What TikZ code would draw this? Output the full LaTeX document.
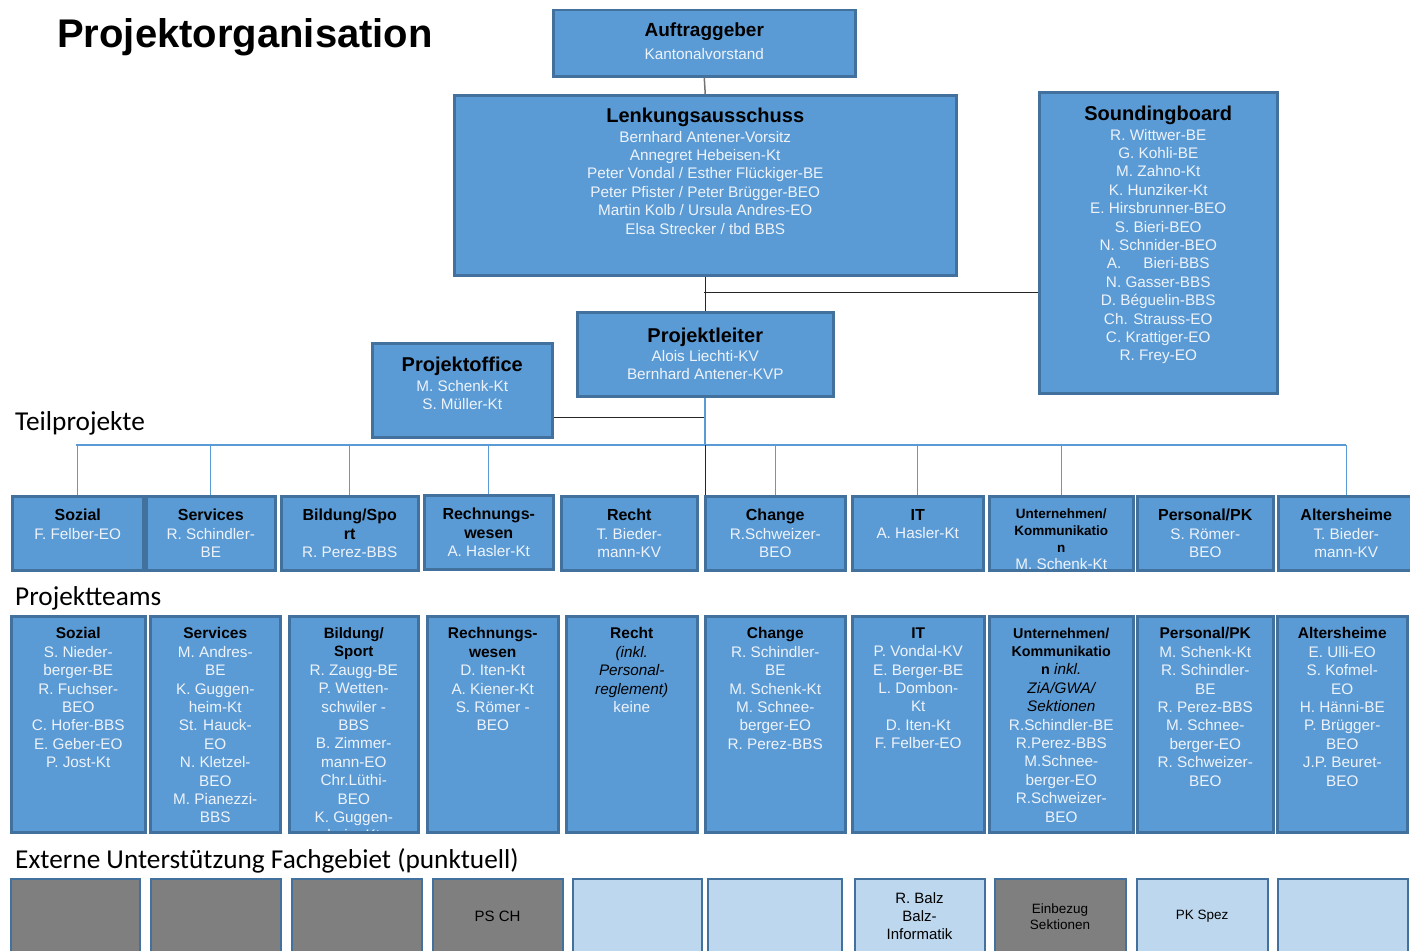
\documentclass[tikz,border=0pt]{standalone}
\usepackage{fontspec}
\setmainfont{Liberation Sans}
\newfontfamily\labelfont{Carlito}
\usetikzlibrary{positioning}
\definecolor{boxblue}{HTML}{5B9BD5}
\definecolor{boxline}{HTML}{41719C}
\definecolor{lightbox}{HTML}{BDD7EE}
\definecolor{greybox}{HTML}{7F7F7F}
\definecolor{nametext}{HTML}{EEF3FA}
\newcommand{\hd}[2]{{\color{black}\fontsize{#1}{18}\selectfont\bfseries #2}}
\newcommand{\ital}[1]{{\color{black}\itshape #1}}
\tikzset{
  box/.style={draw=boxline, line width=2.5pt, fill=boxblue, anchor=north west, inner sep=0pt},
  extbox/.style={draw=boxline, line width=2pt, anchor=north west, inner sep=0pt, minimum height=76pt,
    align=center, font=\fontsize{15}{18}\selectfont},
  names/.style={anchor=north, align=center, inner sep=0pt, text=nametext, font=\fontsize{15.3}{18.4}\selectfont},
  rowlabel/.style={anchor=base west, inner sep=0pt, font=\labelfont\fontsize{27.3}{29}\selectfont},
  conn/.style={draw=black!85, line width=1pt},
  busline/.style={draw=boxblue, line width=1.3pt}
}
\begin{document}
\begin{tikzpicture}[x=1pt, y=-1pt]
\useasboundingbox (0,0) rectangle (1410,950);

\node[anchor=base west, inner sep=0pt, font=\fontsize{40}{40}\selectfont\bfseries] (title) at (57,48) {Projektorganisation};

% Leitung
\node[box, minimum width=302pt, minimum height=66pt] (auftrag) at (552,9) {};
\node[box, minimum width=502pt, minimum height=180pt] (lenk) at (453,94) {};
\node[box, minimum width=238pt, minimum height=301pt] (sound) at (1038,91) {};
\node[box, minimum width=256pt, minimum height=84pt] (leiter) at (576,311) {};
\node[box, minimum width=180pt, minimum height=94pt] (office) at (371,342) {};

\node[names, below=14pt of auftrag.north] (auftragtxt) {\hd{19}{Auftraggeber}\\[4pt]Kantonalvorstand};
\node[names, below=14pt of lenk.north] (lenktxt) {\hd{20}{Lenkungsausschuss}\\[1pt]
  Bernhard Antener-Vorsitz\\Annegret Hebeisen-Kt\\Peter Vondal / Esther Flückiger-BE\\
  Peter Pfister / Peter Brügger-BEO\\Martin Kolb / Ursula Andres-EO\\Elsa Strecker / tbd BBS};
\node[names, below=15pt of sound.north] (soundtxt) {\hd{20}{Soundingboard}\\[1pt]
  R. Wittwer-BE\\G. Kohli-BE\\M. Zahno-Kt\\K. Hunziker-Kt\\E. Hirsbrunner-BEO\\S. Bieri-BEO\\
  N. Schnider-BEO\\A.\hspace{22pt}Bieri-BBS\\N. Gasser-BBS\\D. Béguelin-BBS\\Ch. Strauss-EO\\
  C. Krattiger-EO\\R. Frey-EO};
\node[names, below=17pt of leiter.north] (leitertxt) {\hd{20}{Projektleiter}\\Alois Liechti-KV\\Bernhard Antener-KVP};
\node[names, below=15pt of office.north] (officetxt) {\hd{20}{Projektoffice}\\[1pt]M. Schenk-Kt\\S. Müller-Kt};

% Verbindungen oben
\coordinate (sbjoin) at (704,292);
\coordinate (offjoin) at (704,417);
\coordinate (busL) at (76,445);
\draw[draw=black!55, line width=1.5pt] (auftrag.south) -- (lenk.north);
\draw[conn] (lenk.south) -- (leiter.north);
\draw[conn] (sbjoin) -- (sound.west |- sbjoin);
\draw[conn] (offjoin) -- (office.east |- offjoin);

% Teilprojekte
\node[rowlabel] (tplabel) at (15,430) {Teilprojekte};
\node[box, minimum width=131pt, minimum height=74pt] (tp1) at (11,495) {};
\node[box, minimum width=129pt, minimum height=74pt] (tp2) at (145,495) {};
\node[box, minimum width=137pt, minimum height=74pt] (tp3) at (280,495) {};
\node[box, minimum width=129pt, minimum height=74pt] (tp4) at (423,494) {};
\node[box, minimum width=136pt, minimum height=74pt] (tp5) at (560,495) {};
\node[box, minimum width=140pt, minimum height=74pt] (tp6) at (704,495) {};
\node[box, minimum width=131pt, minimum height=74pt] (tp7) at (851,495) {};
\node[box, minimum width=144pt, minimum height=74pt] (tp8) at (988,495) {};
\node[box, minimum width=136pt, minimum height=74pt] (tp9) at (1136,495) {};
\node[box, minimum width=136pt, minimum height=74pt] (tp10) at (1277,495) {};

\draw[boxblue, line width=2pt] (leiter.south) -- (leiter.south |- busL);
\draw[busline] (busL) -- (busL -| tp10.north);
\foreach \t in {tp1,tp2,tp3,tp4,tp6,tp7,tp8,tp10}
  \draw[busline] (\t.north) -- (\t.north |- busL);
\draw[conn] (leiter.south |- busL) -- (leiter.south |- tp6.north);

\begin{scope}
\clip (0,490) rectangle (1410,569);
\node[names, below=14pt of tp1.north] (tp1txt) {\hd{16}{Sozial}\\F. Felber-EO};
\node[names, below=14pt of tp2.north] (tp2txt) {\hd{16}{Services}\\R. Schindler-\\BE};
\node[names, below=14pt of tp3.north] (tp3txt) {\hd{16}{Bildung/Spo}\\\hd{16}{rt}\\R. Perez-BBS};
\node[names, below=14pt of tp4.north] (tp4txt) {\hd{16}{Rechnungs-}\\\hd{16}{wesen}\\A. Hasler-Kt};
\node[names, below=14pt of tp5.north] (tp5txt) {\hd{16}{Recht}\\T. Bieder-\\mann-KV};
\node[names, below=14pt of tp6.north] (tp6txt) {\hd{16}{Change}\\R.Schweizer-\\BEO};
\node[names, below=14pt of tp7.north] (tp7txt) {\hd{16}{IT}\\A. Hasler-Kt};
\node[names, below=14pt of tp8.north, font=\fontsize{15.3}{16.7}\selectfont] (tp8txt)
  {\hd{13.5}{Unternehmen/}\\\hd{13.5}{Kommunikatio}\\\hd{13.5}{n}\\M. Schenk-Kt};
\node[names, below=14pt of tp9.north] (tp9txt) {\hd{16}{Personal/PK}\\S. Römer-\\BEO};
\node[names, below=14pt of tp10.north] (tp10txt) {\hd{16}{Altersheime}\\T. Bieder-\\mann-KV};
\end{scope}

% Projektteams
\node[rowlabel] (ptlabel) at (15,605) {Projektteams};
\node[box, minimum width=134pt, minimum height=216pt] (pt1) at (10,615) {};
\node[box, minimum width=130pt, minimum height=216pt] (pt2) at (149,615) {};
\node[box, minimum width=129pt, minimum height=216pt] (pt3) at (288,615) {};
\node[box, minimum width=131pt, minimum height=216pt] (pt4) at (426,615) {};
\node[box, minimum width=131pt, minimum height=216pt] (pt5) at (565,615) {};
\node[box, minimum width=140pt, minimum height=216pt] (pt6) at (704,615) {};
\node[box, minimum width=132pt, minimum height=216pt] (pt7) at (851,615) {};
\node[box, minimum width=144pt, minimum height=216pt] (pt8) at (988,615) {};
\node[box, minimum width=136pt, minimum height=216pt] (pt9) at (1136,615) {};
\node[box, minimum width=130pt, minimum height=216pt] (pt10) at (1276,615) {};

\begin{scope}
\clip (0,610) rectangle (1410,830);
\node[names, below=12.5pt of pt1.north] (pt1txt) {\hd{15.5}{Sozial}\\S. Nieder-\\berger-BE\\R. Fuchser-\\BEO\\
  C. Hofer-BBS\\E. Geber-EO\\P. Jost-Kt};
\node[names, below=12.5pt of pt2.north] (pt2txt) {\hd{15.5}{Services}\\M. Andres-\\BE\\K. Guggen-\\heim-Kt\\
  St. Hauck-\\EO\\N. Kletzel-\\BEO\\M. Pianezzi-\\BBS};
\node[names, below=12.5pt of pt3.north] (pt3txt) {\hd{15}{Bildung/}\\\hd{15}{Sport}\\R. Zaugg-BE\\P. Wetten-\\
  schwiler -\\BBS\\B. Zimmer-\\mann-EO\\Chr.Lüthi-\\BEO\\K. Guggen-\\heim-Kt};
\node[names, below=12.5pt of pt4.north] (pt4txt) {\hd{15.5}{Rechnungs-}\\\hd{15.5}{wesen}\\D. Iten-Kt\\
  A. Kiener-Kt\\S. Römer -\\BEO};
\node[names, below=12.5pt of pt5.north] (pt5txt) {\hd{15.5}{Recht}\\\ital{(inkl.}\\\ital{Personal-}\\
  \ital{reglement)}\\keine};
\node[names, below=12.5pt of pt6.north] (pt6txt) {\hd{15.5}{Change}\\R. Schindler-\\BE\\M. Schenk-Kt\\
  M. Schnee-\\berger-EO\\R. Perez-BBS};
\node[names, below=12.5pt of pt7.north] (pt7txt) {\hd{15.5}{IT}\\P. Vondal-KV\\E. Berger-BE\\L. Dombon-\\Kt\\
  D. Iten-Kt\\F. Felber-EO};
\node[names, below=12.5pt of pt8.north] (pt8txt) {\hd{14.3}{Unternehmen/}\\\hd{14.3}{Kommunikatio}\\
  \hd{14.3}{n} \ital{inkl.}\\\ital{ZiA/GWA/}\\\ital{Sektionen}\\R.Schindler-BE\\R.Perez-BBS\\
  M.Schnee-\\berger-EO\\R.Schweizer-\\BEO};
\node[names, below=12.5pt of pt9.north] (pt9txt) {\hd{15.5}{Personal/PK}\\M. Schenk-Kt\\R. Schindler-\\BE\\
  R. Perez-BBS\\M. Schnee-\\berger-EO\\R. Schweizer-\\BEO};
\node[names, below=12.5pt of pt10.north] (pt10txt) {\hd{15.5}{Altersheime}\\E. Ulli-EO\\S. Kofmel-\\EO\\
  H. Hänni-BE\\P. Brügger-\\BEO\\J.P. Beuret-\\BEO};
\end{scope}

% Externe Unterstuetzung
\node[rowlabel] (exlabel) at (15,868) {Externe Unterstützung Fachgebiet (punktuell)};
\node[extbox, fill=greybox, minimum width=129pt] (ex1) at (9.5,877.5) {};
\node[extbox, fill=greybox, minimum width=130pt] (ex2) at (149.5,877.5) {};
\node[extbox, fill=greybox, minimum width=130pt] (ex3) at (290.5,877.5) {};
\node[extbox, fill=greybox, minimum width=130pt] (ex4) at (431.5,877.5) {PS CH};
\node[extbox, fill=lightbox, minimum width=129pt] (ex5) at (571.5,877.5) {};
\node[extbox, fill=lightbox, minimum width=134pt] (ex6) at (706.5,877.5) {};
\node[extbox, fill=lightbox, minimum width=130pt] (ex7) at (853.5,877.5) {R. Balz\\Balz-\\Informatik};
\node[extbox, fill=greybox, minimum width=131pt, font=\fontsize{13.5}{16}\selectfont] (ex8) at (993.5,877.5) {Einbezug\\Sektionen};
\node[extbox, fill=lightbox, minimum width=131pt, font=\fontsize{13.5}{16}\selectfont] (ex9) at (1135.5,877.5) {PK Spez};
\node[extbox, fill=lightbox, minimum width=130pt] (ex10) at (1276.5,877.5) {};
\end{tikzpicture}
\end{document}
